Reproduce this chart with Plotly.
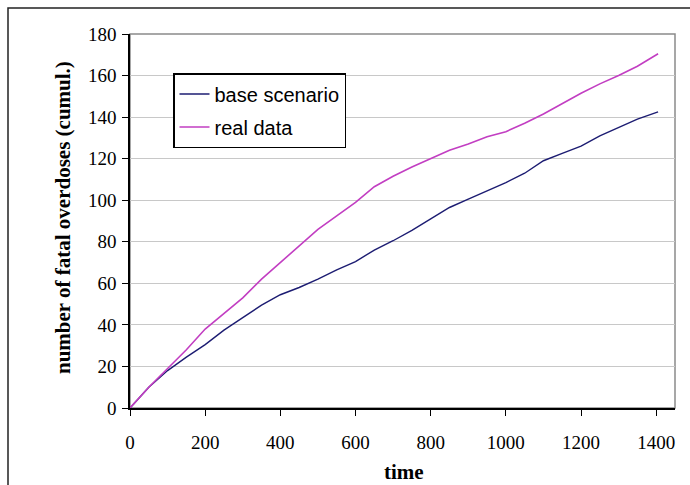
import plotly.graph_objects as go

time_pts = [0, 50, 100, 150, 200, 250, 300, 350, 400, 450, 500, 550, 600, 650,
            700, 750, 800, 850, 900, 950, 1000, 1050, 1100, 1150, 1200, 1250,
            1300, 1350, 1405]
base_scenario = [0, 10, 18, 24.5, 30.5, 37.5, 43.5, 49.5, 54.5, 58, 62, 66.5,
                 70.5, 76, 80.5, 85.5, 91, 96.5, 100.5, 104.5, 108.5, 113, 119,
                 122.5, 126, 131, 135, 139, 142.5]
real_data = [0, 10, 19, 28, 38, 45.5, 53, 62, 70, 78, 86, 92.5, 99, 106.5,
             111.5, 116, 120, 124, 127, 130.5, 133, 137, 141.5, 146.5, 151.5,
             156, 160, 164.5, 170.5]
x_ticks = [0, 200, 400, 600, 800, 1000, 1200, 1400]
y_ticks = [0, 20, 40, 60, 80, 100, 120, 140, 160, 180]

W, H = 690, 485
L, R, T, B = 130, 15, 34, 77
pw, ph = W - L - R, H - T - B

def px_x(p):
    return (p - L) / pw

def px_y(p):
    return (H - B - p) / ph

fig = go.Figure()
fig.add_trace(go.Scatter(x=time_pts, y=base_scenario, mode="lines",
                         name="base scenario", legendgroup="a",
                         line=dict(color="#1c1c72", width=1.4)))
fig.add_trace(go.Scatter(x=time_pts, y=real_data, mode="lines",
                         name="real data", legendgroup="b",
                         line=dict(color="#c23ec2", width=1.6)))

tick_font = dict(family="Liberation Serif, Times New Roman, serif", size=19, color="#000")

fig.update_layout(
    width=W, height=H,
    margin=dict(l=L, r=R, t=T, b=B),
    paper_bgcolor="white", plot_bgcolor="white",
    showlegend=True,
    legend=dict(x=px_x(173), y=px_y(73), xanchor="left", yanchor="top",
                bgcolor="white", bordercolor="#000", borderwidth=1.5,
                font=dict(family="Liberation Sans, Arial, sans-serif", size=20, color="#000"),
                traceorder="grouped", tracegroupgap=4),
    xaxis=dict(range=[0, 1450], tickvals=x_ticks, ticks="outside", ticklen=6,
               tickcolor="#000", showline=True, linecolor="#000", linewidth=1.5,
               showgrid=False, zeroline=False, tickfont=tick_font,
               ticklabelstandoff=10),
    yaxis=dict(range=[0, 180], tickvals=y_ticks, ticks="outside", ticklen=6,
               tickcolor="#000", showline=True, linecolor="#000", linewidth=1.5,
               showgrid=True, gridcolor="#c8c8c8", gridwidth=1.2, zeroline=False,
               tickfont=tick_font, ticklabelstandoff=2),
    shapes=[
        dict(type="rect", xref="paper", yref="paper", x0=0, y0=0, x1=1, y1=1,
             line=dict(color="#8a8a8a", width=1.5), layer="below"),
        dict(type="rect", xref="paper", yref="paper", x0=px_x(8), y0=-0.4,
             x1=1.2, y1=px_y(8), line=dict(color="#222", width=1.5)),
    ],
    annotations=[
        dict(text="<b>time</b>", xref="paper", yref="paper", x=px_x(404), y=px_y(472),
             xanchor="center", yanchor="middle", showarrow=False,
             font=dict(family="Liberation Serif, Times New Roman, serif", size=21, color="#000")),
        dict(text="<b>number of fatal overdoses (cumul.)</b>", xref="paper", yref="paper",
             x=px_x(63), y=px_y(218), xanchor="center", yanchor="middle", showarrow=False,
             textangle=-90,
             font=dict(family="Liberation Serif, Times New Roman, serif", size=21, color="#000")),
    ],
)

fig.write_html("out.html", config={"displayModeBar": False},
               post_script="document.body.style.margin='0px';")
